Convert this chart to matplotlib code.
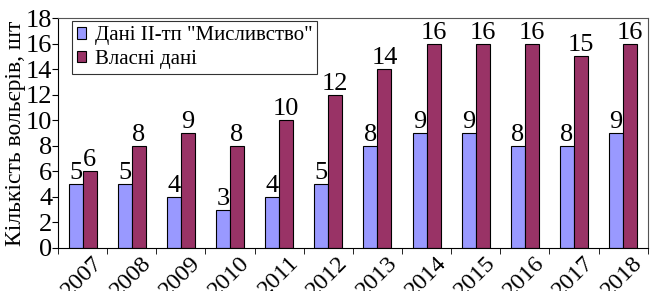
import matplotlib
matplotlib.use("Agg")
import matplotlib.pyplot as plt
import matplotlib.transforms as mtransforms
import numpy as np

years = ['2007', '2008', '2009', '2010', '2011', '2012',
         '2013', '2014', '2015', '2016', '2017', '2018']
official = [5, 5, 4, 3, 4, 5, 8, 9, 9, 8, 8, 9]
own = [6, 8, 9, 8, 10, 12, 14, 16, 16, 16, 15, 16]
label_official = 'Дані ІІ-тп "Мисливство"'
label_own = 'Власні дані'

plt.rcParams['font.family'] = ['Liberation Serif', 'DejaVu Serif']

fig, ax = plt.subplots(figsize=(6.51, 2.91), dpi=100)
fig.subplots_adjust(left=0.089, right=0.995, top=0.938, bottom=0.148)

x = np.arange(len(years))
w = 0.285
ax.bar(x - w / 2, official, width=w, color='#9999FF', edgecolor='black',
       linewidth=0.8, label=label_official)
ax.bar(x + w / 2, own, width=w, color='#993366', edgecolor='black',
       linewidth=0.8, label=label_own)

for xi, v in zip(x, official):
    ax.text(xi - w / 2, v, str(v), ha='center', va='bottom', fontsize=19)
for xi, v in zip(x, own):
    ax.text(xi + w / 2, v, str(v), ha='center', va='bottom', fontsize=19)

ax.set_xlim(-0.5, len(years) - 0.5)
ax.set_ylim(0, 18)
ax.set_yticks(range(0, 19, 2))
ax.tick_params(axis='y', labelsize=19, direction='out', length=4, pad=0)
ax.set_xticks(x)
ax.set_xticklabels(years, rotation=45, ha='right', rotation_mode='anchor',
                   fontsize=17.5)
ax.tick_params(axis='x', length=0, pad=3)
ax.set_xticks(np.arange(-0.5, len(years), 1), minor=True)
ax.tick_params(axis='x', which='minor', length=4, direction='out')
ax.set_ylabel('Кількість вольєрів, шт', fontsize=17, labelpad=0)

# shift year labels a little to the right, like the original
offset = mtransforms.ScaledTranslation(9 / 100, 0, fig.dpi_scale_trans)
for lbl in ax.get_xticklabels():
    lbl.set_transform(lbl.get_transform() + offset)

for s in ['top', 'right']:
    ax.spines[s].set_color('#555555')
    ax.spines[s].set_linewidth(0.8)

leg = ax.legend(loc='upper left', bbox_to_anchor=(0.018, 1.0), fontsize=15,
                frameon=True, fancybox=False, edgecolor='black',
                handlelength=0.45, handleheight=0.45, handletextpad=0.4,
                borderpad=0.25, labelspacing=0.2, borderaxespad=0.15)
leg.get_frame().set_linewidth(0.8)

fig.savefig('out.png', dpi=100)
